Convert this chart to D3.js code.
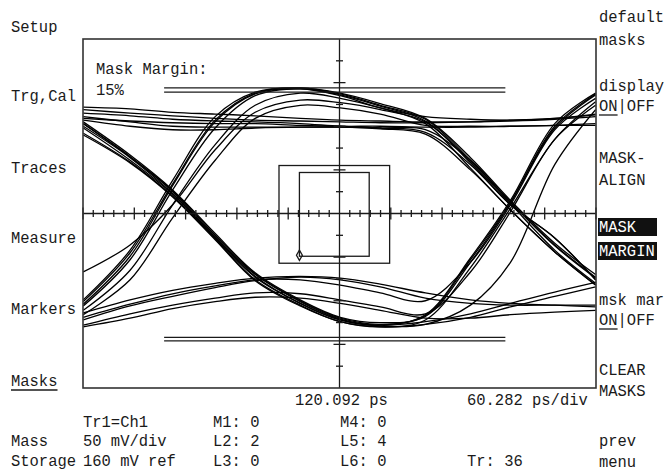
<!DOCTYPE html>
<html>
<head>
<meta charset="utf-8">
<script src="https://cdn.jsdelivr.net/npm/d3@7"></script>
<style>
  html, body { margin: 0; padding: 0; background: #fff; }
  svg { display: block; }
  text { font-family: "Liberation Mono", "DejaVu Sans Mono", monospace; font-size: 15.5px; fill: #1a1a1a; }
</style>
</head>
<body>
<div id="scope"></div>
<script>
// timebase / vertical settings
const centerPs = 120.092, psPerDiv = 60.282;
const refMv = 160, mvPerDiv = 50;

// sample times (ps) shared by every trace
const timePs = [-181, -126, -76, -26, 21, 74, 121, 168, 221, 274, 321, 373, 421];

// trace voltages (mV) at those times
const risingTraces = [
  [61, 118, 198, 271, 299, 304, 298, 286, 269, 224, 175, 126, 90],
  [54, 107, 187, 258, 295, 303, 296, 283, 266, 218, 170, 132, 84],
  [49, 95, 170, 239, 284, 298, 292, 281, 263, 212, 164, 116, 78],
  [59, 115, 194, 267, 298, 304, 297, 284, 268, 221, 173, 124, 87],
  [56, 111, 192, 265, 297, 303, 295, 281, 271, 268, 267, 269, 273],
  [44, 84, 155, 221, 269, 284, 281, 274, 261, 260, 260, 261, 261],
  [93, 124, 170, 233, 276, 290, 287, 279, 265, 219, 171, 118, 80]
];
const fallingTraces = [
  [265, 227, 187, 137, 92, 61, 41, 35, 42, 104, 172, 258, 296],
  [258, 221, 182, 132, 87, 57, 38, 32, 44, 109, 175, 263, 298],
  [250, 218, 179, 130, 83, 54, 36, 30, 38, 98, 166, 245, 288],
  [263, 225, 186, 135, 91, 60, 40, 33, 43, 107, 173, 260, 297],
  [263, 225, 185, 133, 90, 59, 39, 32, 36, 45, 57, 70, 81],
  [252, 219, 180, 131, 84, 55, 36, 30, 33, 41, 53, 65, 76],
  [260, 224, 183, 133, 88, 57, 38, 31, 33, 55, 104, 216, 279]
];
const highTraces = [
  [282, 280, 276, 274, 272, 269, 267, 266, 265, 265, 266, 268, 271],
  [279, 275, 272, 269, 267, 266, 265, 264, 264, 265, 267, 269, 274],
  [269, 266, 264, 263, 263, 261, 260, 260, 259, 259, 260, 261, 263],
  [275, 272, 268, 266, 265, 263, 260, 258, 253, 216, 170, 132, 84],
  [271, 265, 260, 259, 259, 259, 259, 257, 251, 210, 164, 116, 78],
  [267, 260, 256, 256, 258, 259, 259, 258, 256, 221, 173, 123, 86]
];
const lowTraces = [
  [38, 54, 65, 75, 83, 87, 84, 76, 63, 57, 55, 55, 55],
  [30, 40, 51, 59, 64, 63, 57, 49, 40, 40, 44, 47, 49],
  [46, 61, 72, 80, 86, 88, 86, 79, 69, 61, 57, 55, 53],
  [41, 56, 68, 77, 84, 84, 78, 69, 60, 104, 170, 256, 292],
  [32, 45, 55, 63, 69, 68, 61, 53, 45, 93, 162, 245, 284]
];

// mask regions: [t0, t1, v0, v1]
const maskInner = [73, 155, 111, 207];
const maskOuter = [49, 179, 103, 215];
const maskLimitTimes = [-86, 315];
const maskUpperMv = [304, 299];
const maskLowerMv = [18, 14];

const leftMenu = [
  { label: "Setup", y: 32 }, { label: "Trg,Cal", y: 101 }, { label: "Traces", y: 173 },
  { label: "Measure", y: 243 }, { label: "Markers", y: 314 }, { label: "Masks", y: 386, under: 5 }
];
const rightMenu = [
  { label: "default", y: 22 }, { label: "masks", y: 45 },
  { label: "display", y: 91 }, { label: "ON|OFF", y: 111, under: 2 },
  { label: "MASK-", y: 163 }, { label: "ALIGN", y: 185 },
  { label: "MASK", y: 232, inv: true }, { label: "MARGIN", y: 256, inv: true },
  { label: "msk mar", y: 305 }, { label: "ON|OFF", y: 325, under: 2 },
  { label: "CLEAR", y: 375 }, { label: "MASKS", y: 396 },
  { label: "prev", y: 446 }, { label: "menu", y: 467 }
];
const readouts = [
  { label: "120.092 ps", x: 295, y: 405 }, { label: "60.282 ps/div", x: 467, y: 405 },
  { label: "Tr1=Ch1", x: 83, y: 427 }, { label: "M1: 0", x: 213, y: 427 }, { label: "M4: 0", x: 340, y: 427 },
  { label: "Mass", x: 11, y: 446 }, { label: "50 mV/div", x: 83, y: 446 }, { label: "L2: 2", x: 213, y: 446 }, { label: "L5: 4", x: 340, y: 446 },
  { label: "Storage", x: 11, y: 466 }, { label: "160 mV ref", x: 83, y: 466 }, { label: "L3: 0", x: 213, y: 466 }, { label: "L6: 0", x: 340, y: 466 },
  { label: "Tr: 36", x: 467, y: 466 },
  { label: "Mask Margin:", x: 96, y: 74 }, { label: "15%", x: 96, y: 95 }
];

const width = 666, height = 473;
const plot = { left: 83, right: 596, top: 39, bottom: 388 };

const svg = d3.select("#scope").append("svg")
  .attr("width", width).attr("height", height)
  .attr("viewBox", `0 0 ${width} ${height}`);

const x = d3.scaleLinear()
  .domain([centerPs - 5 * psPerDiv, centerPs + 5 * psPerDiv])
  .range([plot.left, plot.right]);
const y = d3.scaleLinear()
  .domain([refMv - 4 * mvPerDiv, refMv + 4 * mvPerDiv])
  .range([plot.bottom, plot.top]);

const ink = "#1a1a1a";

svg.append("clipPath").attr("id", "clip").append("rect")
  .attr("x", plot.left).attr("y", plot.top)
  .attr("width", plot.right - plot.left).attr("height", plot.bottom - plot.top);

// traces
const line = d3.line()
  .x((d, i) => x(timePs[i]))
  .y(d => y(d))
  .curve(d3.curveCatmullRom.alpha(0.5));

const allTraces = [...risingTraces, ...fallingTraces, ...highTraces, ...lowTraces];
svg.append("g").attr("clip-path", "url(#clip)")
  .selectAll("path")
  .data(allTraces)
  .join("path")
  .attr("d", line)
  .attr("fill", "none")
  .attr("stroke", "#000")
  .attr("stroke-width", 1.3);

// crosshair axes with ticks
const g = svg.append("g").attr("stroke", ink).attr("stroke-width", 1.3);
g.append("line").attr("x1", plot.left).attr("x2", plot.right).attr("y1", y(refMv)).attr("y2", y(refMv));
g.append("line").attr("x1", x(centerPs)).attr("x2", x(centerPs)).attr("y1", plot.top).attr("y2", plot.bottom);

const hTicks = d3.range(-25, 26).filter(k => k !== 0);
g.selectAll(".ht").data(hTicks).join("line")
  .attr("x1", k => x(centerPs + k * psPerDiv / 5))
  .attr("x2", k => x(centerPs + k * psPerDiv / 5))
  .attr("y1", k => y(refMv) - (k % 5 === 0 ? 6 : 3.5))
  .attr("y2", k => y(refMv) + (k % 5 === 0 ? 6 : 3.5));

const vTicks = d3.range(-7, 8).filter(k => k !== 0);
g.selectAll(".vt").data(vTicks).join("line")
  .attr("y1", k => y(refMv + k * mvPerDiv / 2))
  .attr("y2", k => y(refMv + k * mvPerDiv / 2))
  .attr("x1", k => x(centerPs) - (k % 2 === 0 ? 6 : 3.5))
  .attr("x2", k => x(centerPs) + (k % 2 === 0 ? 6 : 3.5));

// masks
const m = svg.append("g").attr("stroke", ink).attr("stroke-width", 1.3).attr("fill", "none");
[maskOuter, maskInner].forEach(r => {
  m.append("rect")
    .attr("x", x(r[0])).attr("y", y(r[3]))
    .attr("width", x(r[1]) - x(r[0])).attr("height", y(r[2]) - y(r[3]));
});
[...maskUpperMv, ...maskLowerMv].forEach(v => {
  m.append("line")
    .attr("x1", x(maskLimitTimes[0])).attr("x2", x(maskLimitTimes[1]))
    .attr("y1", y(v)).attr("y2", y(v));
});
m.append("path")
  .attr("d", d3.symbol(d3.symbolDiamond, 30)())
  .attr("transform", `translate(${x(maskInner[0])},${y(maskInner[2]) - 1})`);

// frame
svg.append("rect")
  .attr("x", plot.left).attr("y", plot.top)
  .attr("width", plot.right - plot.left).attr("height", plot.bottom - plot.top)
  .attr("fill", "none").attr("stroke", "#333").attr("stroke-width", 1.6);

// menu labels (scope font is tall and narrow)
const addLabel = (d, xPos) => {
  if (d.inv) {
    svg.append("rect").attr("x", xPos - 1).attr("y", d.y - 14)
      .attr("width", 59).attr("height", 18).attr("fill", "#111");
  }
  const t = svg.append("text")
    .attr("transform", `translate(${xPos},${d.y}) scale(1,1.05)`)
    .text(d.label);
  if (d.inv) t.style("fill", "#fff");
  if (d.under) {
    svg.append("line")
      .attr("x1", xPos).attr("x2", xPos + d.under * 9.3)
      .attr("y1", d.y + 4).attr("y2", d.y + 4)
      .attr("stroke", ink).attr("stroke-width", 1.3);
  }
};
leftMenu.forEach(d => addLabel(d, 11));
rightMenu.forEach(d => addLabel(d, 599));
readouts.forEach(d => addLabel(d, d.x));
</script>
</body>
</html>
